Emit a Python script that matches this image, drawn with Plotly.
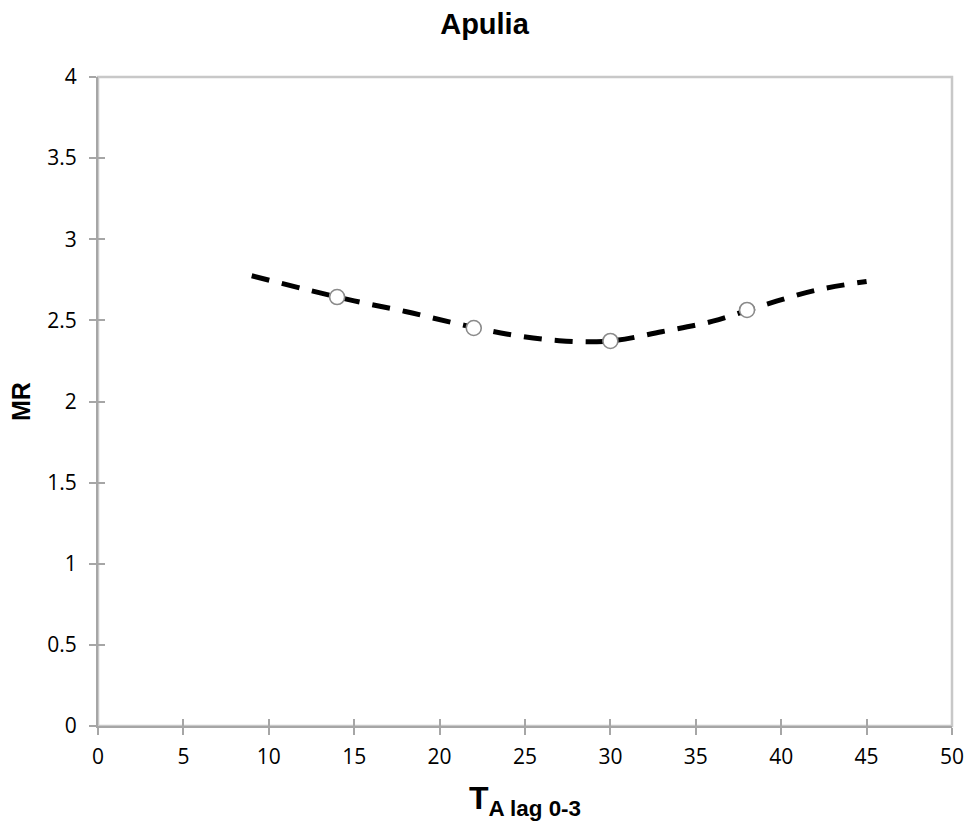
import plotly.graph_objects as go

# Fitted curve
curve_x = [9, 12, 15, 18, 21, 24, 27, 30, 33, 36, 39, 42, 45]
curve_y = [2.775, 2.695, 2.62, 2.555, 2.48, 2.415, 2.375, 2.373, 2.43, 2.495, 2.595, 2.685, 2.74]

# Observed points
point_x = [14, 22, 30, 38]
point_y = [2.644, 2.453, 2.373, 2.564]

x_ticks = [0, 5, 10, 15, 20, 25, 30, 35, 40, 45, 50]
y_ticks = [0, 0.5, 1, 1.5, 2, 2.5, 3, 3.5, 4]
y_tick_text = ["0", "0.5", "1", "1.5", "2", "2.5", "3", "3.5", "4"]

fig = go.Figure()
fig.add_trace(go.Scatter(
    x=curve_x, y=curve_y, mode="lines",
    line=dict(color="black", width=5, dash="18px,13px", shape="spline", smoothing=1.0),
    showlegend=False, hoverinfo="skip"))
fig.add_trace(go.Scatter(
    x=point_x, y=point_y, mode="markers",
    marker=dict(size=15, color="white", line=dict(color="#8a8a8a", width=1.6)),
    showlegend=False))
# invisible trace for overlay axes (inner half of crossing ticks)
fig.add_trace(go.Scatter(x=[0], y=[0], xaxis="x2", yaxis="y2", mode="markers",
                         marker=dict(opacity=0), showlegend=False, hoverinfo="skip"))

axis_col = "#a6a6a6"
tick_font = dict(family="Open Sans, sans-serif", size=21, color="black")

fig.update_layout(
    width=969, height=821,
    margin=dict(l=98, r=17, t=77, b=95, autoexpand=False),
    paper_bgcolor="white", plot_bgcolor="white",
    title=dict(text="<b>Apulia</b>", x=0.5, xref="container", xanchor="center",
               y=0.983, yref="container", yanchor="top",
               font=dict(family="Arial, Liberation Sans, sans-serif", size=29, color="black")),
    xaxis=dict(range=[0, 50], tickvals=x_ticks, ticktext=[str(v) for v in x_ticks],
               showgrid=False, zeroline=False, showline=True, linecolor=axis_col, linewidth=2,
               ticks="outside", ticklen=7, tickwidth=1.5, tickcolor=axis_col,
               tickfont=tick_font, ticklabelstandoff=4, automargin=False,
               title=dict(text="<b>T<sub>A lag 0-3</sub></b>", standoff=18,
                          font=dict(family="Arial, Liberation Sans, sans-serif", size=32, color="black"))),
    yaxis=dict(range=[0, 4], tickvals=y_ticks, ticktext=y_tick_text,
               showgrid=False, zeroline=False, showline=True, linecolor=axis_col, linewidth=2,
               ticks="outside", ticklen=7, tickwidth=1.5, tickcolor=axis_col,
               tickfont=tick_font, ticklabelstandoff=8, automargin=False,
               title=dict(text="<b>MR</b>", standoff=10,
                          font=dict(family="Arial, Liberation Sans, sans-serif", size=25, color="black"))),
    xaxis2=dict(range=[0, 50], tickvals=x_ticks, overlaying="x", anchor="y2", side="bottom",
                showgrid=False, zeroline=False, showline=False, showticklabels=False,
                ticks="inside", ticklen=7, tickwidth=1.5, tickcolor=axis_col, automargin=False),
    yaxis2=dict(range=[0, 4], tickvals=y_ticks, overlaying="y", anchor="x2", side="left",
                showgrid=False, zeroline=False, showline=False, showticklabels=False,
                ticks="inside", ticklen=7, tickwidth=1.5, tickcolor=axis_col, automargin=False),
    shapes=[dict(type="rect", xref="paper", yref="paper", x0=0, x1=1, y0=0, y1=1,
                 line=dict(color="#c8c8c8", width=2.5), layer="below")],
)

fig.write_html("out.html")
